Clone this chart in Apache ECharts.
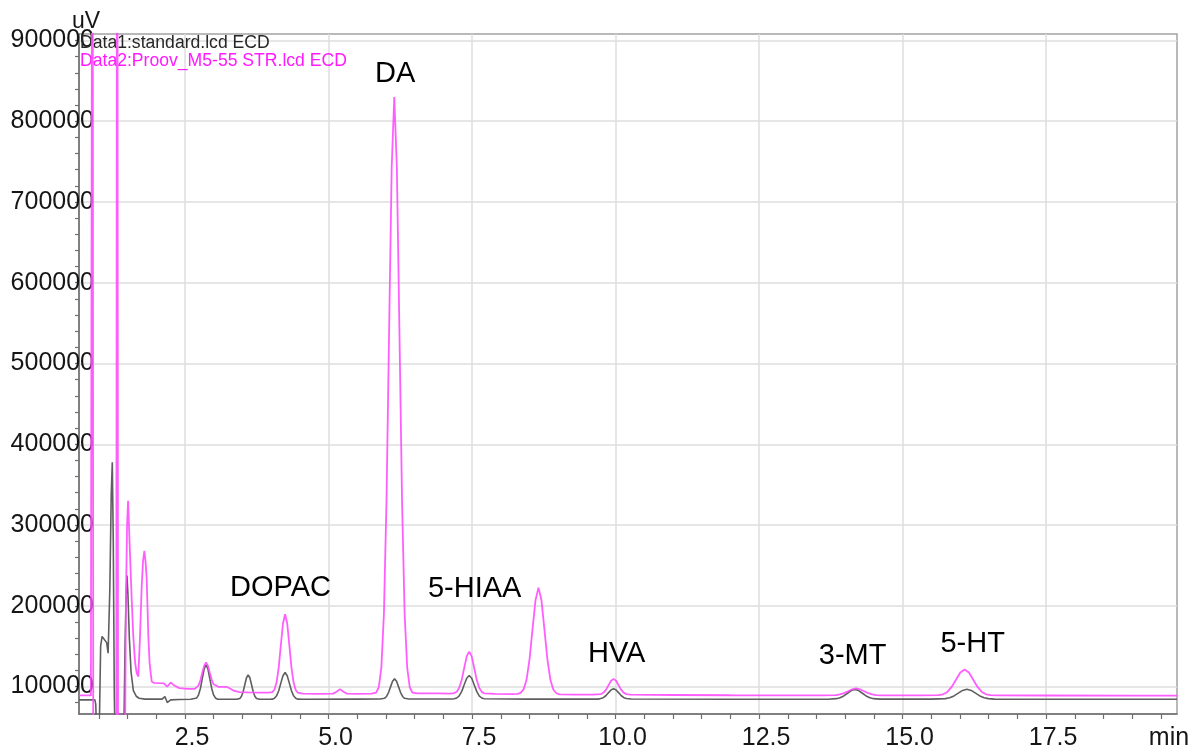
<!DOCTYPE html>
<html>
<head>
<meta charset="utf-8">
<title>Chromatogram</title>
<script src="https://cdn.jsdelivr.net/npm/echarts@6/dist/echarts.min.js"></script>
<style>
  html, body { margin: 0; padding: 0; background: #ffffff; }
  #chart { width: 1200px; height: 753px; }
</style>
</head>
<body>
<div id="chart"></div>
<script>
// ECD chromatograms: standard mix vs. striatum sample (time in min, signal in uV)
const FONT = '"Liberation Sans", Arial, Helvetica, sans-serif';

const traceNames = ['Data1:standard.lcd ECD', 'Data2:Proov_M5-55 STR.lcd ECD'];

// Data1: standard mix
const standardTrace = [
  [0.653, 83500], [0.93, 83500], [0.945, 78000], [0.96, 40000], [1.005, 40000],
  [1.03, 150000], [1.055, 162000], [1.08, 160000], [1.135, 154400], [1.16, 141300],
  [1.19, 220000], [1.215, 340000], [1.233, 377600], [1.25, 280000], [1.268, 90000],
  [1.285, 20000], [1.43, 20000], [1.455, 150000], [1.475, 215000], [1.489, 237300],
  [1.505, 215000], [1.53, 160000], [1.56, 118000], [1.60, 95000], [1.65, 88000],
  [1.70, 85500], [1.80, 84400], [2.10, 84400], [2.15, 87600], [2.19, 80200],
  [2.25, 83500], [2.40, 84000], [2.60, 84200],
  [2.704, 85900], [2.736, 89800], [2.769, 97900], [2.801, 110000], [2.834, 121700],
  [2.866, 126800], [2.899, 121700], [2.931, 110000], [2.964, 97900], [2.996, 89800],
  [3.029, 85900], [3.07, 84300], [3.40, 84200],
  [3.455, 85300], [3.484, 88100], [3.513, 93900], [3.542, 102500], [3.571, 110900],
  [3.60, 114500], [3.629, 110900], [3.658, 102500], [3.687, 93900], [3.716, 88100],
  [3.745, 85300], [3.80, 84300], [3.98, 84200],
  [4.021, 84400], [4.058, 85500], [4.095, 88500], [4.132, 94800], [4.169, 104200],
  [4.206, 113400], [4.243, 117300], [4.280, 113400], [4.317, 104200], [4.354, 94800],
  [4.391, 88500], [4.428, 85500], [4.465, 84400], [4.55, 84200], [5.5, 84400], [5.9, 84500],
  [5.975, 85400], [6.01, 87700], [6.045, 92500], [6.08, 99600], [6.115, 106500],
  [6.15, 109500], [6.185, 106500], [6.22, 99600], [6.255, 92500], [6.29, 87700],
  [6.325, 85400], [6.40, 84500], [7.15, 84600],
  [7.189, 84800], [7.233, 85800], [7.276, 88400], [7.32, 94000], [7.363, 102200],
  [7.407, 110200], [7.45, 113600], [7.494, 110200], [7.537, 102200], [7.581, 94000],
  [7.624, 88400], [7.668, 85800], [7.711, 84800], [8.5, 84400], [9.7, 84400],
  [9.74, 85100], [9.785, 86200], [9.83, 88600], [9.875, 92200], [9.92, 95700],
  [9.965, 97200], [10.01, 95700], [10.055, 92200], [10.10, 88600], [10.145, 86200],
  [10.19, 85100], [10.27, 84500], [12.0, 84300], [13.7, 84300],
  [13.845, 85000], [13.91, 86100], [13.975, 88400], [14.04, 91700], [14.105, 95000],
  [14.17, 96400], [14.235, 95000], [14.30, 91700], [14.365, 88400], [14.43, 86100],
  [14.495, 85000], [14.60, 84400], [15.5, 84400],
  [15.745, 85000], [15.82, 86100], [15.895, 88400], [15.97, 91800], [16.045, 95200],
  [16.12, 96600], [16.195, 95200], [16.27, 91800], [16.345, 88400], [16.42, 86100],
  [16.495, 85000], [16.60, 84400], [18.0, 84300], [19.78, 84300]
];

// Data2: striatum sample
const sampleTrace = [
  [0.653, 89000], [0.86, 89000], [0.875, 90000], [0.889, 1500000], [0.903, -200000],
  [1.30, -200000], [1.318, 1500000], [1.336, -200000], [1.435, -200000],
  [1.47, 200000], [1.49, 300000], [1.508, 330000], [1.541, 265000], [1.57, 210000],
  [1.599, 162000], [1.63, 130000], [1.658, 116600], [1.686, 112400], [1.715, 160000],
  [1.745, 223700], [1.768, 255000], [1.791, 268000], [1.812, 255000], [1.833, 232000],
  [1.861, 162000], [1.882, 130000], [1.902, 116600], [1.92, 106200], [1.96, 104500],
  [2.05, 104200], [2.13, 104000], [2.19, 100000], [2.25, 105000], [2.30, 102000],
  [2.40, 98000], [2.55, 97200], [2.67, 97200],
  [2.704, 98000], [2.736, 101500], [2.769, 108000], [2.801, 117000], [2.834, 125900],
  [2.866, 129700], [2.899, 125900], [2.931, 117200], [2.964, 108600], [2.996, 102800],
  [3.029, 100500], [3.08, 99700], [3.23, 99500], [3.30, 97000], [3.34, 95000],
  [3.45, 93200], [3.60, 92700], [3.80, 92500], [3.95, 92400],
  [4.021, 93100], [4.058, 96300], [4.095, 105200], [4.132, 123700], [4.169, 151200],
  [4.206, 178100], [4.243, 189600], [4.280, 178100], [4.317, 151200], [4.354, 123500],
  [4.391, 104900], [4.428, 95800], [4.465, 92400], [4.55, 91300], [4.80, 91000],
  [5.08, 91200], [5.14, 93500], [5.20, 96800], [5.26, 93500], [5.32, 91200],
  [5.50, 91000], [5.75, 91200],
  [5.83, 92600], [5.875, 99100], [5.92, 123500], [5.965, 190800], [6.01, 331200],
  [6.055, 539600], [6.10, 742800], [6.145, 830000], [6.19, 742800], [6.235, 539600],
  [6.28, 331200], [6.325, 190800], [6.37, 123500], [6.415, 99100], [6.46, 92600],
  [6.55, 91600], [6.90, 91500], [7.10, 91300],
  [7.189, 91900], [7.233, 93600], [7.276, 98400], [7.32, 108300], [7.363, 123000],
  [7.407, 137400], [7.45, 143300], [7.494, 137400], [7.537, 123000], [7.581, 108300],
  [7.624, 98400], [7.668, 93400], [7.711, 91600], [7.90, 91000], [8.20, 90700],
  [8.293, 90900], [8.345, 92100], [8.397, 96400], [8.449, 108400], [8.501, 133500],
  [8.553, 170700], [8.605, 206900], [8.657, 222500], [8.709, 206800], [8.761, 170500],
  [8.813, 133200], [8.865, 108100], [8.917, 96000], [8.969, 91700], [9.021, 90300],
  [9.30, 90000], [9.60, 89900],
  [9.748, 90700], [9.791, 92500], [9.835, 96200], [9.878, 101800], [9.922, 107200],
  [9.965, 109500], [10.009, 107200], [10.052, 101800], [10.096, 96200], [10.139, 92500],
  [10.183, 90700], [10.26, 89900], [11.0, 89500], [12.0, 89200], [13.0, 89000], [13.6, 89000],
  [13.84, 89400], [13.91, 90200], [13.98, 91800], [14.05, 94200], [14.12, 96600],
  [14.19, 97600], [14.26, 96600], [14.33, 94200], [14.40, 91800], [14.47, 90200],
  [14.54, 89400], [14.65, 89000], [15.3, 89000],
  [15.63, 89400], [15.705, 90400], [15.78, 93300], [15.855, 99500], [15.93, 108500],
  [16.005, 117400], [16.08, 121200], [16.155, 117400], [16.23, 108500], [16.305, 99500],
  [16.38, 93300], [16.455, 90400], [16.53, 89400], [16.65, 89000], [17.5, 88900],
  [19.0, 88800], [19.78, 88800]
];

// Peak names and the (min, uV) point each name is centred on
const peakNames = ['DA', 'DOPAC', '5-HIAA', 'HVA', '3-MT', '5-HT'];
const peakLabelAt = [
  [6.16, 859000], [4.164, 222100], [7.545, 220900],
  [10.02, 140500], [14.13, 138000], [16.22, 152800]
];

// Axis ranges and tick labels
const timeRange = [0.653, 19.78];
const signalRange = [66000, 908000];
const timeTickLabels = [2.5, 5.0, 7.5, 10.0, 12.5, 15.0, 17.5];
const signalTickLabels = [100000, 200000, 300000, 400000, 500000, 600000, 700000, 800000, 900000];

// small ticks: every 0.5 min and every 20000 uV
const timeMinorTicks = [];
for (let t = 1.0; t <= 19.5 + 1e-9; t += 0.5) timeMinorTicks.push(+t.toFixed(1));
const signalMinorTicks = [];
for (let v = 80000; v <= 900000; v += 20000) signalMinorTicks.push(v);

const axisGrey = '#6e6e6e';
const gridGrey = '#dedede';
const textDark = '#161616';

const chart = echarts.init(document.getElementById('chart'), null, { renderer: 'canvas' });

chart.setOption({
  animation: false,
  backgroundColor: '#ffffff',
  textStyle: { fontFamily: FONT },
  grid: {
    left: 79, right: 23, top: 34, bottom: 39,
    show: true, borderColor: '#a3a3a3', borderWidth: 1.5,
    containLabel: false, outerBoundsMode: 'none'
  },
  legend: {
    orient: 'vertical', left: 75, top: 34,
    icon: 'none', itemWidth: 0, itemHeight: 18, itemGap: 0, padding: 0,
    selectedMode: false,
    textStyle: { fontSize: 17.6, fontFamily: FONT, lineHeight: 18 },
    data: [
      { name: traceNames[0], textStyle: { color: '#262626' } },
      { name: traceNames[1], textStyle: { color: '#ff1aff' } }
    ]
  },
  xAxis: [
    {
      type: 'value', position: 'bottom', min: timeRange[0], max: timeRange[1],
      axisLine: { show: true, onZero: false, lineStyle: { color: axisGrey, width: 1.5 } },
      axisTick: { show: false, customValues: timeTickLabels },
      axisLabel: {
        customValues: timeTickLabels, formatter: v => v.toFixed(1),
        fontSize: 25, color: textDark, margin: 12, padding: [0, 0, 0, 14], fontFamily: FONT
      },
      splitLine: { show: true, lineStyle: { color: gridGrey, width: 1.5 } },
      name: 'min', nameLocation: 'end', nameGap: -8, nameMoveOverlap: false,
      nameTextStyle: {
        fontSize: 25, color: textDark, align: 'center', verticalAlign: 'top',
        padding: [12, 0, 0, 0], fontFamily: FONT
      }
    },
    {
      type: 'value', position: 'bottom', min: timeRange[0], max: timeRange[1],
      axisLine: { show: false, onZero: false },
      axisTick: { show: true, customValues: timeMinorTicks, length: 5, lineStyle: { color: axisGrey, width: 1.2 } },
      axisLabel: { show: false },
      splitLine: { show: false }
    }
  ],
  yAxis: [
    {
      type: 'value', position: 'left', min: signalRange[0], max: signalRange[1],
      axisLine: { show: true, onZero: false, lineStyle: { color: axisGrey, width: 1.5 } },
      axisTick: { show: false, customValues: signalTickLabels },
      axisLabel: {
        customValues: signalTickLabels, formatter: v => String(v),
        fontSize: 25, color: textDark, margin: -15, fontFamily: FONT
      },
      splitLine: { show: true, lineStyle: { color: gridGrey, width: 1.5 } },
      name: 'uV', nameLocation: 'end', nameGap: 1, nameMoveOverlap: false,
      nameTextStyle: {
        fontSize: 23, color: textDark, align: 'center', verticalAlign: 'bottom',
        padding: [0, 0, 0, 14], lineHeight: 23, fontFamily: FONT
      }
    },
    {
      type: 'value', position: 'left', min: signalRange[0], max: signalRange[1],
      axisLine: { show: false, onZero: false },
      axisTick: { show: true, customValues: signalMinorTicks, length: 4, lineStyle: { color: axisGrey, width: 1.2 } },
      axisLabel: { show: false },
      splitLine: { show: false }
    }
  ],
  series: [
    {
      name: traceNames[0], type: 'line', xAxisIndex: 0, yAxisIndex: 0,
      data: standardTrace, showSymbol: false, smooth: false, clip: true,
      lineStyle: { color: '#5f5f5f', width: 1.6 }, itemStyle: { color: '#5f5f5f' },
      silent: true, z: 3
    },
    {
      name: traceNames[1], type: 'line', xAxisIndex: 0, yAxisIndex: 0,
      data: sampleTrace, showSymbol: false, smooth: false, clip: true,
      lineStyle: { color: '#ff4dff', width: 1.8, opacity: 0.9 }, itemStyle: { color: '#ff4dff' },
      silent: true, z: 4
    },
    {
      name: 'peak names', type: 'scatter', xAxisIndex: 0, yAxisIndex: 0,
      data: peakLabelAt.map((p, i) => ({ name: peakNames[i], value: p })),
      symbol: 'circle', symbolSize: 0, silent: true, z: 5,
      itemStyle: { opacity: 1, color: '#000000' },
      label: {
        show: true, position: 'inside', formatter: '{b}', opacity: 1,
        fontSize: 29, color: '#000000', fontFamily: FONT,
        textBorderWidth: 0
      }
    }
  ]
});
</script>
</body>
</html>
